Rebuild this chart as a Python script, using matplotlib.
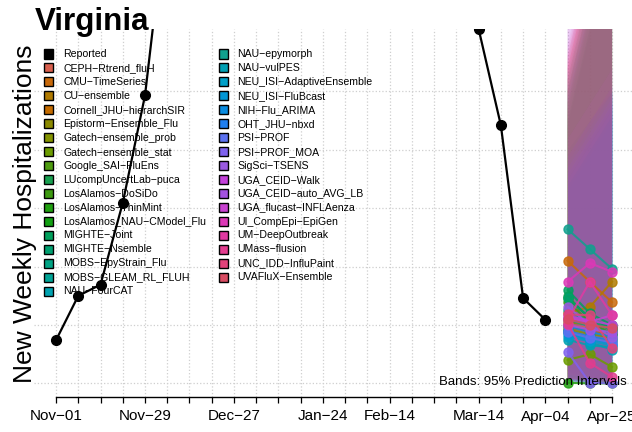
import numpy as np
import pandas as pd
import matplotlib
matplotlib.use("Agg")
import matplotlib.pyplot as plt
import matplotlib.dates as mdates
from matplotlib.patches import Rectangle

plt.rcParams['font.family'] = ['Liberation Sans', 'DejaVu Sans']

# ---------------- data ----------------
state = "Virginia"
week_start = "2025-11-01"
week_end = "2026-04-25"
tick_labels = ["Nov\u221201", "Nov\u221229", "Dec\u221227", "Jan\u221224",
               "Feb\u221214", "Mar\u221214", "Apr\u221204", "Apr\u221225"]
label_weeks = [0, 4, 8, 12, 15, 19, 22, 25]

reported = [74, 150, 169, 309, 493, 820, 1150, 1480, 1700, 1640, 1380, 1120,
            960, 890, 860, 900, 940, 910, 780, 607, 442, 146, 109]

forecast_dates = ["2026-04-11", "2026-04-18", "2026-04-25"]

models = ["CEPH-Rtrend_fluH", "CMU-TimeSeries", "CU-ensemble",
          "Cornell_JHU-hierarchSIR", "Epistorm-Ensemble_Flu",
          "Gatech-ensemble_prob", "Gatech-ensemble_stat", "Google_SAI-FluEns",
          "LUcompUncertLab-puca", "LosAlamos-DoSiDo", "LosAlamos-ThinMint",
          "LosAlamos_NAU-CModel_Flu", "MIGHTE-Joint", "MIGHTE-Nsemble",
          "MOBS-EpyStrain_Flu", "MOBS-GLEAM_RL_FLUH", "NAU-FourCAT",
          "NAU-epymorph", "NAU-vulPES", "NEU_ISI-AdaptiveEnsemble",
          "NEU_ISI-FluBcast", "NIH-Flu_ARIMA", "OHT_JHU-nbxd", "PSI-PROF",
          "PSI-PROF_MOA", "SigSci-TSENS", "UGA_CEID-Walk",
          "UGA_CEID-auto_AVG_LB", "UGA_flucast-INFLAenza", "UI_CompEpi-EpiGen",
          "UM-DeepOutbreak", "UMass-flusion", "UNC_IDD-InfluPaint",
          "UVAFluX-Ensemble"]

median = [[100, 95, 88], [210, 174, 139], [120, 131, 174], [95, 90, 84],
          [105, 100, 96], [92, 85, 78], [40, 50, 28], [88, 80, 72],
          [150, 110, 90], [140, 105, 85], [1, 0, 0], [146, 112, 95],
          [160, 120, 100], [146, 112, 95], [125, 105, 92], [110, 98, 85],
          [75, 65, 62], [264, 230, 196], [90, 70, 58], [80, 72, 65],
          [85, 75, 68], [98, 88, 80], [90, 80, 74], [88, 78, 70],
          [54, 1, 0], [131, 100, 80], [115, 108, 100], [100, 92, 88],
          [112, 105, 117], [174, 206, 191], [108, 174, 117], [102, 35, 11],
          [118, 117, 60], [110, 100, 95]]

lower = [[8, 4, 2], [20, 10, 5], [10, 5, 2], [6, 3, 1],
         [8, 4, 2], [6, 3, 1], [0, 0, 0], [5, 2, 1],
         [12, 6, 3], [10, 5, 2], [0, 0, 0], [10, 5, 2],
         [12, 6, 3], [10, 5, 2], [8, 4, 2], [6, 3, 1],
         [4, 2, 1], [30, 15, 8], [4, 2, 0], [5, 2, 1],
         [5, 2, 1], [4, 2, 0], [5, 2, 1], [5, 2, 1],
         [0, 0, 0], [8, 4, 2], [6, 3, 1], [6, 3, 2],
         [8, 4, 2], [15, 10, 5], [6, 8, 4], [4, 0, 0],
         [8, 5, 2], [8, 4, 2]]

upper = [[560, 720, 900], [540, 700, 860], [520, 680, 840], [500, 660, 820],
         [480, 640, 800], [460, 620, 780], [440, 600, 760], [500, 660, 820],
         [520, 680, 840], [480, 640, 800], [450, 610, 770], [470, 630, 790],
         [530, 690, 850], [500, 660, 820], [510, 670, 830], [490, 650, 810],
         [330, 390, 450], [400, 450, 500], [340, 400, 460], [350, 410, 470],
         [370, 430, 490], [380, 440, 500], [360, 420, 480], [390, 450, 510],
         [370, 430, 490], [420, 480, 540], [720, 820, 920], [640, 740, 840],
         [680, 780, 880], [580, 740, 900], [560, 720, 880], [540, 700, 860],
         [570, 730, 890], [550, 710, 870]]

colors = ["#D9604E", "#C8690A", "#B07A00", "#C46C00", "#8C8A00", "#859400",
          "#6C9C00", "#4E9C10", "#18A050", "#3D9A10", "#20A010", "#12A012",
          "#00A05C", "#00A070", "#00A384", "#00A496", "#00A2B0", "#10A08E",
          "#00A0B4", "#00A0C8", "#0096D6", "#0A8CE0", "#1F7FF0", "#5C72F0",
          "#7F62EE", "#9A5AE0", "#C240D8", "#A452E0", "#C842D0", "#DB38B6",
          "#E03AA2", "#E23C8E", "#E2427A", "#D84C62"]

# ---------------- figure ----------------
W, H, DPI = 632, 432, 100
fig = plt.figure(figsize=(W / DPI, H / DPI), dpi=DPI)

def fx(px):
    return px / W

def fy(py):
    return 1 - py / H

left_px, right_px, top_px, bottom_px = 33.8, 634.3, 29, 397
ax = fig.add_axes([fx(left_px), fy(bottom_px), fx(right_px - left_px),
                   (bottom_px - top_px) / H])
ax.set_axisbelow(True)

weeks = pd.date_range(week_start, week_end, freq="7D")
rep_dates = weeks[:len(reported)]
fdates = pd.to_datetime(forecast_dates)

# bands
for lo, hi, c in zip(lower, upper, colors):
    ax.fill_between(fdates, lo, hi, color=c, alpha=0.1, linewidth=0, zorder=1)

# reported
ax.plot(rep_dates, reported, color="black", lw=1.6, marker="o", ms=7,
        zorder=4, clip_on=True)

# forecast medians
for m, c in zip(median, colors):
    ax.plot(fdates, m, color=c, lw=1.5, marker="o", ms=6.5, alpha=0.85,
            zorder=3)

ax.set_xlim(weeks[0] - pd.Timedelta(days=7), weeks[-1] + pd.Timedelta(days=7))
ax.set_ylim(-23.3, 606.8)

ax.set_xticks(weeks)
labels = [""] * len(weeks)
for i, t in zip(label_weeks, tick_labels):
    labels[i] = t
ax.set_xticklabels(labels, fontsize=11)
ax.tick_params(axis="x", length=4.5, width=0.9, pad=4.5, color="black")
ax.set_yticks([0, 100, 200, 300, 400, 500])
ax.tick_params(axis="y", length=0, labelleft=False)
ax.grid(True, which="major", axis="both", linestyle=":", color="#CFCFCF",
        linewidth=0.9)
for s in ["top", "right", "left"]:
    ax.spines[s].set_visible(False)
ax.spines["bottom"].set_bounds(mdates.date2num(weeks[0]),
                               mdates.date2num(weeks[-1]))
ax.spines["bottom"].set_linewidth(1.0)

# legend (manual, two columns, no box)
entries = ["Reported"] + models
entry_colors = ["black"] + colors
row0, dy = 54, 13.96
sq = 9
for k, (name, c) in enumerate(zip(entries, entry_colors)):
    col = 0 if k < 18 else 1
    row = k if k < 18 else k - 18
    cx = 48 if col == 0 else 223
    tx = 63 if col == 0 else 237
    cy = row0 + row * dy
    rect = Rectangle((fx(cx - sq / 2), fy(cy + sq / 2)), sq / W, sq / H,
                     transform=fig.transFigure, facecolor=c,
                     edgecolor="black", linewidth=1.0, clip_on=False,
                     zorder=1.8)
    ax.add_patch(rect)
    ax.text(fx(tx), fy(cy), name.replace("-", "\u2212"),
            transform=fig.transFigure, fontsize=7.6, va="center", ha="left",
            zorder=1.8, clip_on=False)

fig.text(fx(627), fy(382), "Bands: 95% Prediction Intervals", fontsize=9.5,
         ha="right", va="center")
fig.text(fx(35), fy(30), state, fontsize=22.6, fontweight="bold",
         ha="left", va="baseline")
fig.text(fx(32), fy(214), "New Weekly Hospitalizations", fontsize=19,
         rotation=90, rotation_mode="anchor", ha="center", va="baseline")

fig.savefig("out.png", dpi=DPI)
